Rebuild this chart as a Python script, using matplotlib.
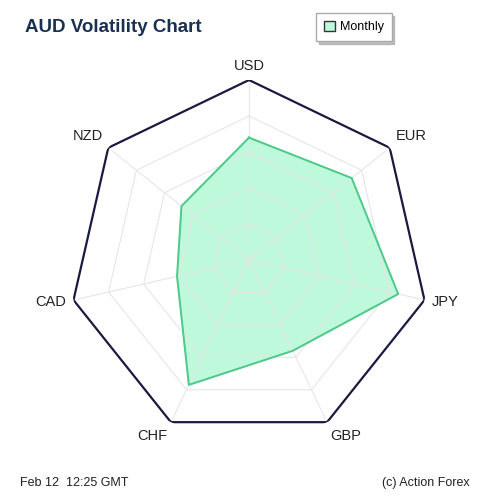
import numpy as np
import matplotlib.pyplot as plt
from matplotlib.patches import Patch

plt.rcParams['font.family'] = ['Liberation Sans', 'DejaVu Sans']

currencies = ['USD', 'EUR', 'JPY', 'GBP', 'CHF', 'CAD', 'NZD']
monthly = [0.68, 0.73, 0.85, 0.56, 0.77, 0.41, 0.48]
levels = [0.2, 0.4, 0.6, 0.8]

fig = plt.figure(figsize=(5, 5), dpi=100)
fig.patch.set_facecolor('white')
ax = fig.add_axes([0.138, 0.12, 0.72, 0.72], projection='polar')
ax.set_theta_offset(np.pi / 2)
ax.set_theta_direction(-1)
ax.set_ylim(0, 1)
ax.grid(False)
ax.spines['polar'].set_visible(False)
ax.set_yticks([])
ax.set_xticks([])

theta = np.linspace(0, 2 * np.pi, len(currencies), endpoint=False)
tc = np.append(theta, theta[0])

vals = np.append(monthly, monthly[0])
ax.fill(tc, vals, color='#7ff5b8', alpha=0.5, zorder=2)

for lv in levels:
    ax.plot(tc, [lv] * len(tc), color='#e6e6e6', lw=0.8, zorder=3)
for t in theta:
    ax.plot([t, t], [0, 1], color='#e6e6e6', lw=0.8, zorder=3)
ax.plot(tc, [1] * len(tc), color='#1a1a40', lw=1.6, zorder=4)
ax.plot(tc, vals, color='#4dc98a', lw=1.4, zorder=5)

# label placement: anchor away from the centre
for t, name in zip(theta, currencies):
    s, c = np.sin(t), np.cos(t)
    ha = 'left' if s > 0.1 else ('right' if s < -0.1 else 'center')
    va = 'bottom' if c > 0.5 else ('top' if c < -0.5 else 'center')
    ax.text(t, 1.04, name, ha=ha, va=va, fontsize=10.5, color='#222222')

fig.text(0.05, 0.944, 'AUD Volatility Chart', fontsize=13.5, fontweight='bold',
         color='#1a3050', va='center')
fig.text(0.04, 0.034, 'Feb 12  12:25 GMT', fontsize=9, color='#222222', va='center')
fig.text(0.94, 0.034, '(c) Action Forex', fontsize=9, color='#222222', va='center', ha='right')

leg = fig.legend(handles=[Patch(facecolor='#bdfadc', edgecolor='#333333', label='Monthly')],
                 loc='center', bbox_to_anchor=(0.708, 0.946), fontsize=9,
                 fancybox=False, shadow={'color': '#999999', 'alpha': 0.6}, handlelength=0.9, handleheight=0.9,
                 handletextpad=0.4, borderpad=0.6)
leg.get_frame().set_edgecolor('#aaaaaa')

fig.savefig('out.png', dpi=100)
